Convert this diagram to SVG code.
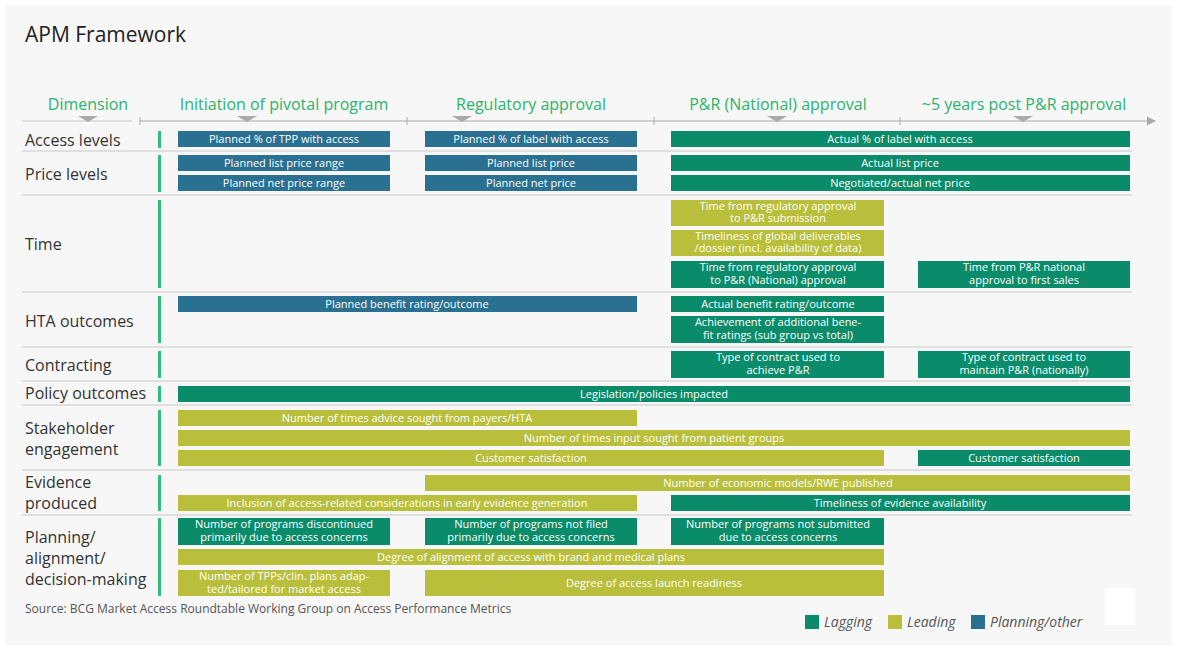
<svg xmlns="http://www.w3.org/2000/svg" width="1180" height="652" viewBox="0 0 1180 652">
<defs>
<style>
text{font-family:"Open Sans","DejaVu Sans",sans-serif}
.b{fill:#fff;font-size:11px;text-anchor:middle}
.pl{fill:#2a7090}.lg{fill:#0a8c6a}.ld{fill:#b9bf3a}
.d{fill:#333;font-size:16px}
.h{fill:#2eb36b;font-size:16px;text-anchor:middle}
.sep{stroke:#c8c8c8;stroke-width:1.2}
.bar{fill:#2ec07a}
.tri{fill:#aaa}
</style>
<marker id="ar" markerWidth="8" markerHeight="8" refX="7" refY="4" orient="auto"><path d="M0,0L8,4L0,8z" fill="#aaa"/></marker>
</defs>
<rect width="1180" height="652" fill="#fff"/>
<rect x="5" y="5" width="1167" height="640" fill="#f7f7f7"/>
<text x="25" y="42" font-size="21" fill="#222">APM Framework</text>
<g id="header">
<text class="h" x="88" y="110">Dimension</text>
<text class="h" x="284" y="110">Initiation of pivotal program</text>
<text class="h" x="531" y="110">Regulatory approval</text>
<text class="h" x="778" y="110">P&amp;R (National) approval</text>
<text class="h" x="1024" y="110">~5 years post P&amp;R approval</text>
<line x1="22" y1="121" x2="132" y2="121" class="sep"/>
<line x1="140" y1="121" x2="1155" y2="121" stroke="#aaa" stroke-width="1.2" marker-end="url(#ar)"/>
<line x1="140" y1="117" x2="140" y2="125" stroke="#aaa"/>
<line x1="407" y1="117" x2="407" y2="125" stroke="#aaa"/>
<line x1="654" y1="117" x2="654" y2="125" stroke="#aaa"/>
<line x1="900" y1="117" x2="900" y2="125" stroke="#aaa"/>
<path class="tri" d="M78,116h20l-10,6z M237,116h20l-10,6z M452,116h20l-10,6z M767,116h20l-10,6z M1013,116h20l-10,6z"/>
</g>
<g id="dims">
<text class="d" x="25" y="146">Access levels</text>
<text class="d" x="25" y="180">Price levels</text>
<text class="d" x="25" y="250">Time</text>
<text class="d" x="25" y="327">HTA outcomes</text>
<text class="d" x="25" y="371">Contracting</text>
<text class="d" x="25" y="399">Policy outcomes</text>
<text class="d" x="25" y="434">Stakeholder</text>
<text class="d" x="25" y="455">engagement</text>
<text class="d" x="25" y="488">Evidence</text>
<text class="d" x="25" y="509">produced</text>
<text class="d" x="25" y="543">Planning/</text>
<text class="d" x="25" y="564">alignment/</text>
<text class="d" x="25" y="585">decision-making</text>
<rect class="bar" x="158" y="131" width="3" height="17"/>
<rect class="bar" x="158" y="155" width="3" height="37"/>
<rect class="bar" x="158" y="200" width="3" height="88"/>
<rect class="bar" x="158" y="296" width="3" height="47"/>
<rect class="bar" x="158" y="351" width="3" height="27"/>
<rect class="bar" x="158" y="386" width="3" height="16"/>
<rect class="bar" x="158" y="410" width="3" height="56"/>
<rect class="bar" x="158" y="475" width="3" height="36"/>
<rect class="bar" x="158" y="518" width="3" height="78"/>
<line class="sep" x1="22" y1="151" x2="1132" y2="151"/>
<line class="sep" x1="22" y1="195" x2="1132" y2="195"/>
<line class="sep" x1="22" y1="292" x2="1132" y2="292"/>
<line class="sep" x1="22" y1="347" x2="1132" y2="347"/>
<line class="sep" x1="22" y1="381" x2="1132" y2="381"/>
<line class="sep" x1="22" y1="405" x2="1132" y2="405"/>
<line class="sep" x1="22" y1="470" x2="1132" y2="470"/>
<line class="sep" x1="22" y1="515" x2="1132" y2="515"/>
</g>
<g id="access">
<rect class="pl" x="178" y="131" width="212" height="16"/><text class="b" x="284" y="143">Planned % of TPP with access</text>
<rect class="pl" x="425" y="131" width="212" height="16"/><text class="b" x="531" y="143">Planned % of label with access</text>
<rect class="lg" x="671" y="131" width="459" height="16"/><text class="b" x="900" y="143">Actual % of label with access</text>
</g>
<g id="price">
<rect class="pl" x="178" y="155" width="212" height="16"/><text class="b" x="284" y="167">Planned list price range</text>
<rect class="pl" x="425" y="155" width="212" height="16"/><text class="b" x="531" y="167">Planned list price</text>
<rect class="lg" x="671" y="155" width="459" height="16"/><text class="b" x="900" y="167">Actual list price</text>
<rect class="pl" x="178" y="175" width="212" height="16"/><text class="b" x="284" y="187">Planned net price range</text>
<rect class="pl" x="425" y="175" width="212" height="16"/><text class="b" x="531" y="187">Planned net price</text>
<rect class="lg" x="671" y="175" width="459" height="16"/><text class="b" x="900" y="187">Negotiated/actual net price</text>
</g>
<g id="time">
<rect class="ld" x="671" y="200" width="213" height="26"/><text class="b" x="778" y="210">Time from regulatory approval</text><text class="b" x="778" y="222">to P&amp;R submission</text>
<rect class="ld" x="671" y="230" width="213" height="26"/><text class="b" x="778" y="240">Timeliness of global deliverables</text><text class="b" x="778" y="252">/dossier (incl. availability of data)</text>
<rect class="lg" x="671" y="261" width="213" height="27"/><text class="b" x="778" y="271">Time from regulatory approval</text><text class="b" x="778" y="284">to P&amp;R (National) approval</text>
<rect class="lg" x="918" y="261" width="212" height="27"/><text class="b" x="1024" y="271">Time from P&amp;R national</text><text class="b" x="1024" y="284">approval to first sales</text>
</g>
<g id="hta">
<rect class="pl" x="178" y="296" width="459" height="16"/><text class="b" x="407" y="308">Planned benefit rating/outcome</text>
<rect class="lg" x="671" y="296" width="213" height="16"/><text class="b" x="778" y="308">Actual benefit rating/outcome</text>
<rect class="lg" x="671" y="316" width="213" height="27"/><text class="b" x="778" y="326">Achievement of additional bene-</text><text class="b" x="778" y="339">fit ratings (sub group vs total)</text>
</g>
<g id="contracting">
<rect class="lg" x="671" y="351" width="213" height="27"/><text class="b" x="778" y="361">Type of contract used to</text><text class="b" x="778" y="374">achieve P&amp;R</text>
<rect class="lg" x="918" y="351" width="212" height="27"/><text class="b" x="1024" y="361">Type of contract used to</text><text class="b" x="1024" y="374">maintain P&amp;R (nationally)</text>
</g>
<g id="policy">
<rect class="lg" x="178" y="386" width="952" height="16"/><text class="b" x="654" y="398">Legislation/policies impacted</text>
</g>
<g id="stakeholder">
<rect class="ld" x="178" y="410" width="459" height="16"/><text class="b" x="407" y="422">Number of times advice sought from payers/HTA</text>
<rect class="ld" x="178" y="430" width="952" height="16"/><text class="b" x="654" y="442">Number of times input sought from patient groups</text>
<rect class="ld" x="178" y="450" width="706" height="16"/><text class="b" x="531" y="462">Customer satisfaction</text>
<rect class="lg" x="918" y="450" width="212" height="16"/><text class="b" x="1024" y="462">Customer satisfaction</text>
</g>
<g id="evidence">
<rect class="ld" x="425" y="475" width="705" height="16"/><text class="b" x="778" y="487">Number of economic models/RWE published</text>
<rect class="ld" x="178" y="495" width="459" height="16"/><text class="b" x="407" y="507">Inclusion of access-related considerations in early evidence generation</text>
<rect class="lg" x="671" y="495" width="459" height="16"/><text class="b" x="900" y="507">Timeliness of evidence availability</text>
</g>
<g id="planning">
<rect class="lg" x="178" y="518" width="212" height="27"/><text class="b" x="284" y="528">Number of programs discontinued</text><text class="b" x="284" y="541">primarily due to access concerns</text>
<rect class="lg" x="425" y="518" width="212" height="27"/><text class="b" x="531" y="528">Number of programs not filed</text><text class="b" x="531" y="541">primarily due to access concerns</text>
<rect class="lg" x="671" y="518" width="213" height="27"/><text class="b" x="778" y="528">Number of programs not submitted</text><text class="b" x="778" y="541">due to access concerns</text>
<rect class="ld" x="178" y="549" width="706" height="16"/><text class="b" x="531" y="561">Degree of alignment of access with brand and medical plans</text>
<rect class="ld" x="178" y="570" width="212" height="26"/><text class="b" x="284" y="580">Number of TPPs/clin. plans adap-</text><text class="b" x="284" y="593">ted/tailored for market access</text>
<rect class="ld" x="425" y="570" width="459" height="26"/><text class="b" x="654" y="587">Degree of access launch readiness</text>
</g>
<text x="25" y="613" font-size="12" fill="#555">Source: BCG Market Access Roundtable Working Group on Access Performance Metrics</text>
<rect x="1105" y="588" width="30" height="37" fill="#fff"/>
<g id="legend" font-size="14" fill="#555" font-style="italic">
<rect class="lg" x="805" y="615" width="14" height="14"/><text x="824" y="627">Lagging</text>
<rect class="ld" x="888" y="615" width="14" height="14"/><text x="907" y="627">Leading</text>
<rect class="pl" x="971" y="615" width="14" height="14"/><text x="990" y="627">Planning/other</text>
</g>
</svg>
